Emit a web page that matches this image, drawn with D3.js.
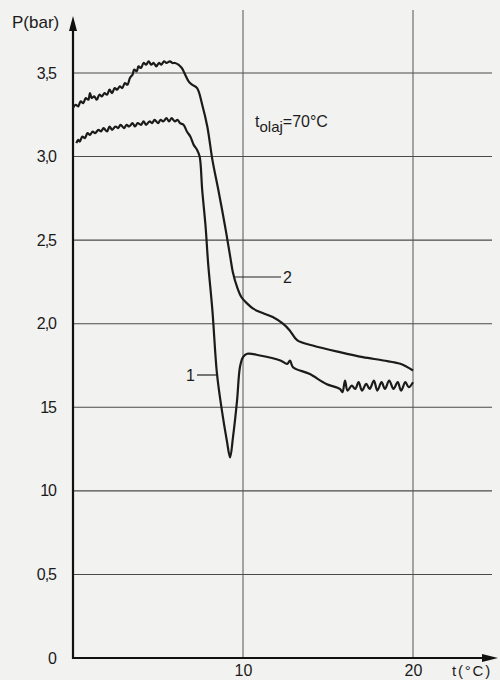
<!DOCTYPE html>
<html>
<head>
<meta charset="utf-8">
<script src="https://cdn.jsdelivr.net/npm/d3@7"></script>
<style>
  body { margin: 0; background: #f2f2f0; }
  svg { display: block; }
  .grid { stroke: #4a4a4a; stroke-width: 1.1; }
  .vgrid { stroke: #555; stroke-width: 1; }
  .curve { fill: none; stroke: #1b1b1b; stroke-width: 2.2; stroke-linejoin: round; }
  text { font-family: "Liberation Sans", Arial, sans-serif; fill: #1b1b1b; }
</style>
</head>
<body>
<div id="chart"></div>
<script>
//Data

var yTicks = [0, 0.5, 1.0, 1.5, 2.0, 2.5, 3.0, 3.5];
var yTickLabels = ["0", "0,5", "10", "15", "2,0", "2,5", "3,0", "3,5"];
var xTicks = [10, 20];
var xTickLabels = ["10", "20"];

// curve 2 (upper)
var curve2T = [0, 0.15, 0.3, 0.45, 0.6, 0.75, 0.9, 1.0, 1.1, 1.25, 1.4, 1.55, 1.7, 1.85, 2.0, 2.15, 2.3, 2.45, 2.6, 2.75,
               2.9, 3.05, 3.2, 3.35, 3.5, 3.6, 3.75, 3.85, 4.0, 4.15, 4.3, 4.45, 4.6, 4.75, 4.9, 5.05, 5.2, 5.35, 5.5, 5.7,
               5.85, 6.0, 6.2, 6.4, 6.6, 6.8, 7.0, 7.3, 7.6, 7.9, 8.2, 8.55, 8.95, 9.25, 9.4, 9.65, 9.9, 10.25, 10.6, 11.0,
               11.75, 12.35, 12.75, 13.2, 14.1, 15.7, 17.05, 18.25, 19.25, 20.0];
var curve2P = [3.29, 3.31, 3.30, 3.33, 3.32, 3.35, 3.34, 3.38, 3.35, 3.36, 3.34, 3.37, 3.36, 3.38, 3.37, 3.40, 3.38, 3.41, 3.40, 3.42,
               3.41, 3.44, 3.43, 3.47, 3.49, 3.52, 3.51, 3.54, 3.53, 3.56, 3.55, 3.57, 3.55, 3.56, 3.54, 3.56, 3.55, 3.57, 3.56, 3.57,
               3.56, 3.56, 3.55, 3.53, 3.49, 3.45, 3.43, 3.41, 3.31, 3.18, 2.98, 2.80, 2.58, 2.40, 2.31, 2.22, 2.16, 2.12, 2.09, 2.07,
               2.04, 2.00, 1.96, 1.90, 1.87, 1.83, 1.80, 1.78, 1.76, 1.72];

// curve 1 (lower)
var curve1T = [0.2, 0.3, 0.4, 0.55, 0.7, 0.85, 1.0, 1.15, 1.3, 1.5, 1.65, 1.8, 2.0, 2.15, 2.3, 2.5, 2.65, 2.8, 3.0, 3.15,
               3.3, 3.5, 3.65, 3.8, 4.0, 4.15, 4.3, 4.5, 4.65, 4.8, 5.0, 5.15, 5.3, 5.5, 5.65, 5.8, 6.0, 6.15, 6.3, 6.5,
               6.7, 6.9, 7.1, 7.3, 7.45, 7.6, 7.8, 7.95, 8.2, 8.47, 8.76, 9.05, 9.24, 9.41, 9.65, 9.82, 10.0, 10.25, 11.0, 12.2,
               12.6, 12.76, 12.94, 13.9, 14.9, 15.7, 15.85, 16.0, 16.15, 16.4, 16.6, 16.8, 17.0, 17.25, 17.45, 17.7, 17.9, 18.15, 18.35, 18.6,
               18.85, 19.1, 19.3, 19.55, 19.75, 20.0];
var curve1P = [3.08, 3.10, 3.09, 3.12, 3.11, 3.14, 3.13, 3.15, 3.14, 3.16, 3.15, 3.17, 3.15, 3.18, 3.16, 3.18, 3.17, 3.19, 3.17, 3.19,
               3.18, 3.20, 3.18, 3.20, 3.19, 3.21, 3.19, 3.21, 3.20, 3.22, 3.20, 3.22, 3.21, 3.23, 3.21, 3.23, 3.21, 3.22, 3.20, 3.19,
               3.15, 3.12, 3.07, 3.04, 3.00, 2.80, 2.58, 2.36, 2.08, 1.70, 1.48, 1.30, 1.20, 1.32, 1.54, 1.74, 1.80, 1.82, 1.81, 1.78,
               1.76, 1.78, 1.74, 1.70, 1.64, 1.61, 1.59, 1.66, 1.60, 1.63, 1.61, 1.65, 1.60, 1.64, 1.61, 1.66, 1.60, 1.65, 1.61, 1.66,
               1.61, 1.65, 1.60, 1.65, 1.62, 1.65];

//Layout

var margin = {top: 73, left: 73, bottom: 22, right: 3};
var width = 500, height = 680;
var plotRight = 413, plotBottom = 658;

var svg = d3.select("#chart").append("svg")
    .attr("width", width)
    .attr("height", height);
svg.append("rect")
    .attr("width", width)
    .attr("height", height)
    .attr("fill", "#f2f2f0");

var x = d3.scaleLinear().domain([0, 20]).range([margin.left, plotRight]);
var y = d3.scaleLinear().domain([0, 3.5]).range([plotBottom, margin.top]);

//grid lines
svg.append("g").selectAll("line")
    .data(yTicks.slice(1))
    .enter().append("line")
    .attr("class", "grid")
    .attr("x1", x(0))
    .attr("x2", 492)
    .attr("y1", function(d){ return y(d); })
    .attr("y2", function(d){ return y(d); });

svg.append("g").selectAll("line")
    .data(xTicks)
    .enter().append("line")
    .attr("class", "vgrid")
    .attr("x1", function(d){ return x(d); })
    .attr("x2", function(d){ return x(d); })
    .attr("y1", 10)
    .attr("y2", y(0));

//axes
var yAxis = d3.axisLeft(y)
    .tickValues(yTicks)
    .tickFormat(function(d, i){ return yTickLabels[i]; })
    .tickSize(0)
    .tickPadding(17);
var gy = svg.append("g")
    .attr("transform", "translate(" + x(0) + ",0)")
    .call(yAxis);
gy.select(".domain").remove();
gy.selectAll("text")
    .style("font-size", "16px")
    .style("letter-spacing", "-1px")
    .attr("fill", "#1b1b1b");

var xAxis = d3.axisBottom(x)
    .tickValues(xTicks)
    .tickFormat(function(d, i){ return xTickLabels[i]; })
    .tickSize(0)
    .tickPadding(7);
var gx = svg.append("g")
    .attr("transform", "translate(0," + y(0) + ")")
    .call(xAxis);
gx.select(".domain").remove();
gx.selectAll("text")
    .style("font-size", "16px")
    .attr("fill", "#1b1b1b");

// axis lines with arrows
svg.append("line")
    .attr("x1", x(0)).attr("x2", x(0))
    .attr("y1", y(0) + 1).attr("y2", 26)
    .attr("stroke", "#111").attr("stroke-width", 2.2);
svg.append("path")
    .attr("d", "M" + x(0) + ",16 L" + (x(0) - 4) + ",31 L" + (x(0) + 4) + ",31 Z")
    .attr("fill", "#111");
svg.append("line")
    .attr("x1", x(0) - 1).attr("x2", 486)
    .attr("y1", y(0)).attr("y2", y(0))
    .attr("stroke", "#111").attr("stroke-width", 2.2);
svg.append("path")
    .attr("d", "M498," + y(0) + " L482," + (y(0) - 4) + " L482," + (y(0) + 4) + " Z")
    .attr("fill", "#111");

svg.append("text")
    .attr("x", 12).attr("y", 28)
    .style("font-size", "17px")
    .text("P(bar)");
svg.append("text")
    .attr("x", 452).attr("y", 676)
    .style("font-size", "15px")
    .style("letter-spacing", "1.8px")
    .text("t(°C)");

//curves
var line = d3.line()
    .x(function(d){ return x(d[0]); })
    .y(function(d){ return y(d[1]); })
    .curve(d3.curveCatmullRom.alpha(0.5));

function pairUp(ts, ps) {
    var out = [];
    for (var i = 0; i < ts.length; i++) {
        out.push([ts[i], ps[i]]);
    }
    return out;
}

svg.append("path")
    .attr("class", "curve")
    .attr("d", line(pairUp(curve2T, curve2P)));
svg.append("path")
    .attr("class", "curve")
    .attr("d", line(pairUp(curve1T, curve1P)));

//curve labels
svg.append("line")
    .attr("x1", 235).attr("x2", 281)
    .attr("y1", 277).attr("y2", 277)
    .attr("stroke", "#222").attr("stroke-width", 1.2);
svg.append("text")
    .attr("x", 283).attr("y", 283)
    .style("font-size", "16px")
    .text("2");
svg.append("line")
    .attr("x1", 197).attr("x2", 216)
    .attr("y1", 375).attr("y2", 375)
    .attr("stroke", "#222").attr("stroke-width", 1.2);
svg.append("text")
    .attr("x", 186).attr("y", 381)
    .style("font-size", "16px")
    .text("1");

// t_olaj annotation
var ann = svg.append("text")
    .attr("x", 255).attr("y", 127)
    .style("font-size", "16px");
ann.append("tspan").text("t");
ann.append("tspan").attr("dy", 5).style("font-size", "15px").text("olaj");
ann.append("tspan").attr("dy", -5).text("=70°C");
</script>
</body>
</html>
